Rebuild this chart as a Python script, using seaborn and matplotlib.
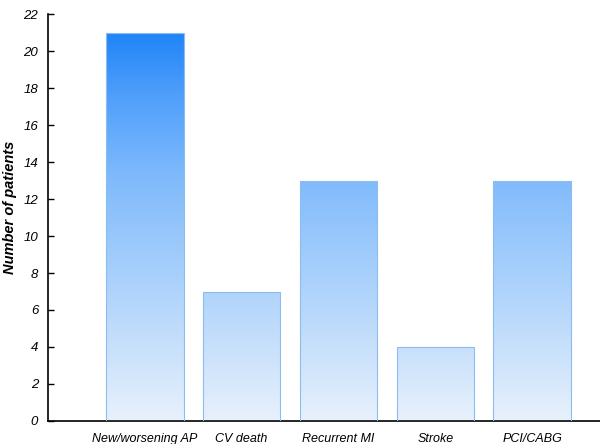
import numpy as np
import pandas as pd
import matplotlib
matplotlib.use("Agg")
import matplotlib.pyplot as plt
import seaborn as sns
from matplotlib.colors import LinearSegmentedColormap

categories = ["New/worsening AP", "CV death", "Recurrent MI", "Stroke", "PCI/CABG"]
patients = [21, 7, 13, 4, 13]
y_ticks = [0, 2, 4, 6, 8, 10, 12, 14, 16, 18, 20, 22]

df = pd.DataFrame({"event": categories, "n": patients})

sns.set_style("white")
plt.rcParams['font.family'] = ['Liberation Sans', 'DejaVu Sans']
plt.rcParams['text.color'] = 'black'
plt.rcParams['xtick.color'] = 'black'
plt.rcParams['ytick.color'] = 'black'
plt.rcParams['axes.labelcolor'] = 'black'

fig = plt.figure(figsize=(6, 4.44), dpi=100)
ax = fig.add_axes([0.08, 0.052, 0.92, 0.916])

sns.barplot(data=df, x="event", y="n", ax=ax, width=0.8,
            color="#7fbafc", edgecolor="#8dbcf2", linewidth=0.8)

# vertical gradient, tied to the y scale (dark blue at the top of the axis)
cmap = LinearSegmentedColormap.from_list("grad", [
    (0.0, "#e8f1fc"), (0.3, "#b2d5fb"), (0.6, "#7fbafc"), (0.8, "#4f9ffb"), (1.0, "#127cf6")])
grad = np.linspace(0, 1, 256).reshape(-1, 1)
for p in list(ax.patches):
    x0 = p.get_x()
    w = p.get_width()
    p.set_facecolor("none")
    p.set_zorder(3)
    im = ax.imshow(grad, cmap=cmap, origin="lower", aspect="auto",
                   extent=[x0, x0 + w, 0, 22], zorder=2)
    im.set_clip_path(p)

ax.set_xlim(-1, 4.7)
ax.set_ylim(0, 22)
ax.set_yticks(y_ticks)
ax.set_yticklabels([str(t) for t in y_ticks], fontstyle="italic", fontsize=9.5)
ax.set_xticks(range(len(categories)))
ax.set_xticklabels(categories, fontstyle="italic", fontsize=9)
ax.tick_params(axis="y", direction="in", length=4, width=1, left=True, pad=7)
ax.tick_params(axis="x", length=0, pad=9)
ax.set_xlabel("")
ax.set_ylabel("Number of patients", fontstyle="italic", fontweight="bold", fontsize=10.5)
ax.yaxis.label.set_va("center")
ax.yaxis.set_label_coords(-0.068, 0.526)

for s in ["top", "right"]:
    ax.spines[s].set_visible(False)
for s in ["left", "bottom"]:
    ax.spines[s].set_color("black")
    ax.spines[s].set_linewidth(1.2)

fig.savefig("out.png", dpi=100)
